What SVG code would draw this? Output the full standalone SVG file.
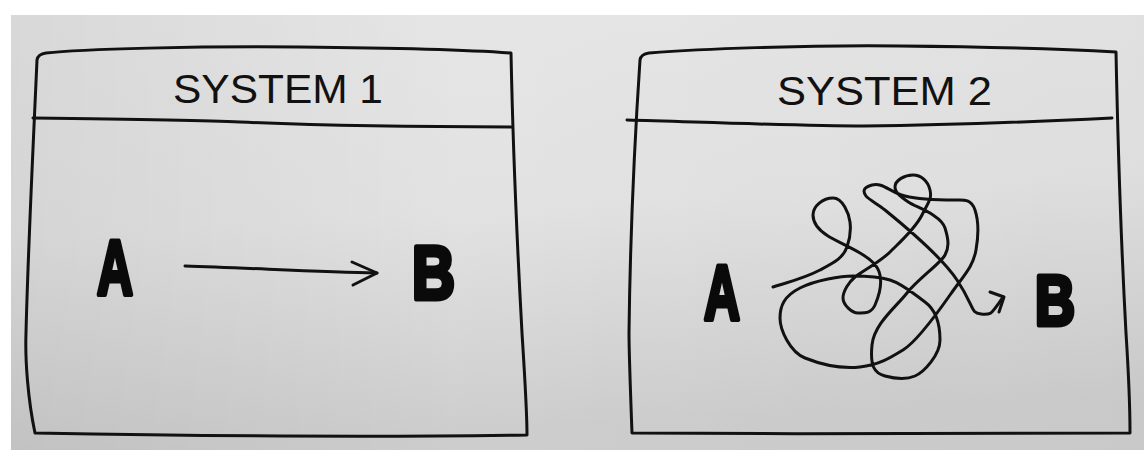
<svg xmlns="http://www.w3.org/2000/svg" width="1144" height="450" viewBox="0 0 1144 450">
<defs>
<linearGradient id="bg" x1="0" y1="0" x2="0.15" y2="1">
<stop offset="0" stop-color="#e6e6e6"/>
<stop offset="0.5" stop-color="#e2e2e2"/>
<stop offset="1" stop-color="#cdcdcd"/>
</linearGradient>
<linearGradient id="shade" x1="0" y1="0" x2="1" y2="0">
<stop offset="0" stop-color="#000" stop-opacity="0.06"/>
<stop offset="0.4" stop-color="#000" stop-opacity="0"/>
<stop offset="1" stop-color="#000" stop-opacity="0.02"/>
</linearGradient>
<style>
.ln{fill:none;stroke:#111;stroke-width:3;stroke-linecap:round;stroke-linejoin:round}
.title{font-family:"Liberation Sans",Arial,sans-serif;font-size:40px;fill:#111}
.big{font-family:"Liberation Sans",Arial,sans-serif;font-weight:bold;fill:#0a0a0a;stroke:#0a0a0a;stroke-width:5;stroke-linejoin:round}
</style>
</defs>
<rect width="1144" height="450" fill="#ffffff"/>
<rect x="11" y="15" width="1133" height="435" fill="url(#bg)"/>
<rect x="11" y="15" width="1133" height="435" fill="url(#shade)"/>

<g id="system1">
<path class="ln" d="M37,60 Q38,54 46,53 C80,49 200,46 300,47 C400,48 470,50 511,53 C513,150 518,260 522,333 C525,380 527,410 527,435 C400,437 200,436 35,433 C28,400 25,360 26,333 C28,250 33,150 37,60 Z"/>
<path class="ln" d="M33,118 C120,119 200,120 240,122 C330,126 450,127 511,127"/>
<text class="title" x="173" y="103" textLength="210" lengthAdjust="spacingAndGlyphs">SYSTEM 1</text>
</g>
<g id="s1-a"><text class="big" x="97" y="295" font-size="78" textLength="36" lengthAdjust="spacingAndGlyphs">A</text></g>
<g id="s1-b"><text class="big" x="412" y="299" font-size="76" textLength="43" lengthAdjust="spacingAndGlyphs">B</text></g>

<g id="system2">
<path class="ln" d="M640,60 Q641,54 649,53 C700,49 800,45 900,46 C1000,47 1080,50 1116,52 C1118,150 1122,260 1126,333 C1129,380 1130,410 1130,433 C1000,434 800,434 632,433 C630,380 629,350 629,333 C630,250 634,150 640,60 Z"/>
<path class="ln" d="M627,120 C700,122 800,126 864,126 C950,125 1050,121 1112,118"/>
<text class="title" x="777" y="105" textLength="215" lengthAdjust="spacingAndGlyphs">SYSTEM 2</text>
</g>
<g id="s2-a"><text class="big" x="704" y="320" font-size="78" textLength="36" lengthAdjust="spacingAndGlyphs">A</text></g>
<g id="s2-b"><text class="big" x="1035" y="325" font-size="70" textLength="40" lengthAdjust="spacingAndGlyphs">B</text></g>

<g id="connectors">
<path class="ln" d="M185,266 C250,268 320,272 377,273"/>
<path class="ln" d="M352,262 L377,273 L353,285"/>
<path class="ln" d="M773,287 C789,282 805,278 820,270 S843,258 847,247 S851,230 850,222 S843,198 833,198 S813,206 813,215 S820,231 828,236 S850,247 860,253 S878,265 880,275 S879,296 875,305 S864,313 858,313 S843,305 843,298 S849,282 855,277 S880,262 890,252 S915,229 922,215 S932,199 930,190 S921,175 913,175 S895,180 895,187 S904,199 910,203 S941,215 945,228 S949,247 945,255 S918,279 907,293 S874,324 872,345 S874,373 885,376 S906,380 915,376 S940,355 940,340 S936,310 925,302 S903,284 890,280 S865,276 853,276 S816,280 800,288 S780,306 780,318 S790,352 805,358 S841,369 860,367 S890,358 903,350 S936,315 950,295 S973,267 976,250 S979,222 975,210 S962,200 955,200 S921,200 905,196 S883,182 872,185 S864,193 866,196 S879,205 885,210 S939,253 957,280 S970,313 981,314 S992,312 996,307 S1001,300 1003,297"/>
<path class="ln" d="M990,292 L1004,297 L999,312"/>
</g>
</svg>
